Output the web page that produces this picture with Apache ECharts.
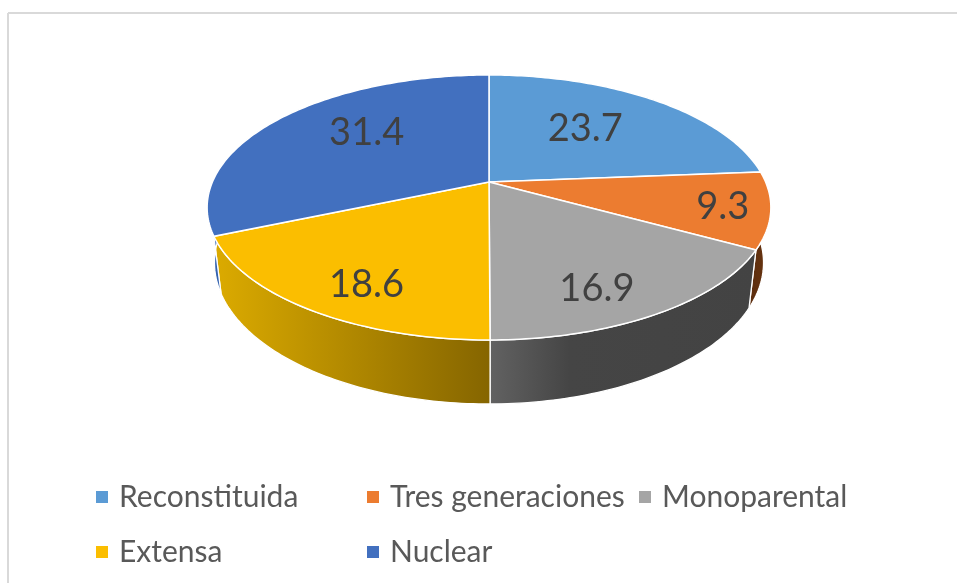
<!DOCTYPE html>
<html>
<head>
<meta charset="utf-8">
<title>Tipos de familia</title>
<script src="https://cdn.jsdelivr.net/npm/echarts@6/dist/echarts.min.js"></script>
<style>
  html, body { margin: 0; padding: 0; background: #fff; }
  #chart { width: 957px; height: 583px; }
</style>
</head>
<body>
<div id="chart"></div>
<script>
// datos
const categories = ["Reconstituida", "Tres generaciones", "Monoparental", "Extensa", "Nuclear"];
const values = [23.7, 9.3, 16.9, 18.6, 31.4];

// colores
const topColors = ["#5B9BD5", "#EC7C30", "#A5A5A5", "#FBBE00", "#4270BF"];
const wallStops = [
  [[0, "#3f78ad"], [1, "#3f78ad"]],
  [[0, "#5a2c0d"], [1, "#6b3611"]],
  [[0, "#626262"], [0.3, "#454545"], [1, "#434343"]],
  [[0, "#dcab00"], [1, "#856500"]],
  [[0, "#3463b0"], [1, "#3463b0"]]
];

// posicion de las etiquetas dentro de cada sector (radio, ajuste en grados)
const labelRadius = [0.604, 0.835, 0.787, 0.787, 0.646];
const labelNudge = [-3.8, 0, 5.3, -4.1, 8.7];

// tapa y base del disco en perspectiva
const persp = 0.1924;
const topDisc = { cy: 182, a: 276.6, b: 127.6 };
const baseDisc = { cy: 235.6, a: 269.4, b: 136 };
const centerX = 489;

const total = values.reduce((s, v) => s + v, 0);

// angulo inicial de cada sector, en sentido horario desde arriba
function startAngle(idx) {
  let sum = 0;
  for (let i = 0; i < idx; i++) sum += values[i];
  return (sum / total) * 360;
}

function project(disc, deg, r) {
  const t = (deg * Math.PI) / 180;
  const p = r * Math.sin(t);
  const q = r * Math.cos(t);
  const w = 1 + persp * q;
  return [centerX + (disc.a * p) / w, disc.cy - (disc.b * q) / w];
}

function arc(disc, from, to) {
  const pts = [];
  const n = Math.max(2, Math.ceil(Math.abs(to - from)));
  for (let i = 0; i <= n; i++) {
    pts.push(project(disc, from + ((to - from) * i) / n, 1));
  }
  return pts;
}

function sliceRenderer(idx) {
  return function (params, api) {
    const from = startAngle(idx);
    const to = from + (api.value(0) / total) * 360;
    const mid = (from + to) / 2 + labelNudge[idx];
    const label = project(topDisc, mid, labelRadius[idx]);
    const wallPoints = arc(topDisc, from, to).concat(arc(baseDisc, to, from));
    return {
      type: "group",
      children: [
        {
          type: "polygon",
          z2: 1,
          shape: { points: wallPoints },
          style: {
            fill: new echarts.graphic.LinearGradient(
              0, 0, 1, 0,
              wallStops[idx].map((s) => ({ offset: s[0], color: s[1] }))
            ),
            stroke: "#fff",
            lineWidth: 1.3
          }
        },
        {
          type: "polygon",
          z2: 10,
          shape: { points: [project(topDisc, 0, 0)].concat(arc(topDisc, from, to)) },
          style: { fill: topColors[idx], stroke: "#fff", lineWidth: 1.5 }
        },
        {
          type: "text",
          z2: 20,
          style: {
            text: String(api.value(0)),
            x: label[0],
            y: label[1] + 2,
            align: "center",
            verticalAlign: "middle",
            fill: "#404040",
            font: "38px Lato"
          }
        }
      ]
    };
  };
}

const legendBase = {
  orient: "vertical",
  padding: 0,
  top: 482,
  icon: "rect",
  itemWidth: 12,
  itemHeight: 12,
  itemGap: 25,
  selectedMode: false,
  textStyle: {
    color: "#595959",
    fontFamily: "Lato",
    fontSize: 30,
    lineHeight: 30,
    padding: [0, 0, 0, 6]
  }
};

const chart = echarts.init(document.getElementById("chart"));
chart.setOption({
  animation: false,
  backgroundColor: "#fff",
  legend: [
    Object.assign({}, legendBase, { left: 96, data: [categories[0], categories[3]] }),
    Object.assign({}, legendBase, { left: 367, data: [categories[1], categories[4]] }),
    Object.assign({}, legendBase, { left: 639, data: [categories[2]] })
  ],
  graphic: [
    { type: "line", shape: { x1: 8, y1: 13, x2: 957, y2: 13 }, style: { stroke: "#d9d9d9", lineWidth: 2 } },
    { type: "line", shape: { x1: 8, y1: 13, x2: 8, y2: 583 }, style: { stroke: "#d9d9d9", lineWidth: 2 } }
  ],
  series: categories.map((name, i) => ({
    name: name,
    type: "custom",
    coordinateSystem: "none",
    itemStyle: { color: topColors[i] },
    silent: true,
    data: [[values[i]]],
    renderItem: sliceRenderer(i)
  }))
});
</script>
</body>
</html>
